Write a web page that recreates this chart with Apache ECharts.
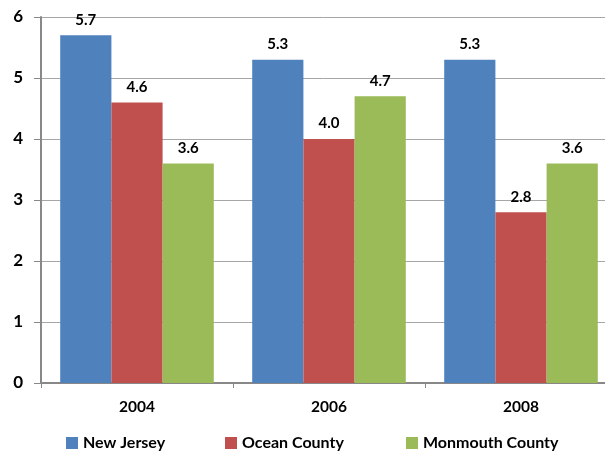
<!DOCTYPE html>
<html>
<head>
<meta charset="utf-8">
<script src="https://cdn.jsdelivr.net/npm/echarts@6/dist/echarts.min.js"></script>
<style>
html, body { margin: 0; padding: 0; background: #fff; }
#box { width: 605px; height: 452px; }
</style>
</head>
<body>
<div id="box"></div>
<script>
var years = ['2004', '2006', '2008'];
var newJersey = [5.7, 5.3, 5.3];
var oceanCounty = [4.6, 4.0, 2.8];
var monmouthCounty = [3.6, 4.7, 3.6];
var seriesNames = ['New Jersey', 'Ocean County', 'Monmouth County'];
var colors = ['#4F81BD', '#C0504D', '#9BBB59'];

var font = 'Lato, "Open Sans", sans-serif';

function bar(name, data, color) {
  return {
    name: name,
    type: 'bar',
    data: data,
    barGap: 0,
    barCategoryGap: '20%',
    itemStyle: { color: color },
    label: {
      show: true,
      position: 'top',
      distance: 8,
      formatter: function (p) { return p.value.toFixed(1); },
      fontFamily: font,
      fontWeight: 'bold',
      fontSize: 15,
      color: '#000'
    }
  };
}

function legend(name, left) {
  return {
    data: [name],
    left: left,
    top: 433,
    padding: 0,
    itemWidth: 12,
    itemHeight: 12,
    icon: 'rect',
    textStyle: { fontFamily: font, fontWeight: 'bold', fontSize: 16, lineHeight: 20, color: '#000' }
  };
}

var myChart = echarts.init(document.getElementById('box'));
var option = {
  animation: false,
  color: colors,
  legend: [legend(seriesNames[0], 66), legend(seriesNames[1], 225), legend(seriesNames[2], 406)],
  grid: { left: 41, width: 576, top: 17, height: 366, outerBoundsMode: 'none', containLabel: false },
  xAxis: {
    type: 'category',
    data: years,
    axisLine: { lineStyle: { color: '#888', width: 2 } },
    axisTick: { show: true, length: 5, lineStyle: { color: '#888' } },
    axisLabel: { margin: 16, fontFamily: font, fontWeight: 'bold', fontSize: 15.5, color: '#000' }
  },
  yAxis: {
    type: 'value',
    min: 0,
    max: 6,
    interval: 1,
    axisLine: { show: true, lineStyle: { color: '#888', width: 2 } },
    axisTick: { show: true, length: 7, lineStyle: { color: '#888' } },
    splitLine: { lineStyle: { color: '#A6A6A6', width: 1 } },
    axisLabel: { margin: 18, fontFamily: font, fontWeight: 'bold', fontSize: 17, color: '#000' }
  },
  series: [
    bar(seriesNames[0], newJersey, colors[0]),
    bar(seriesNames[1], oceanCounty, colors[1]),
    bar(seriesNames[2], monmouthCounty, colors[2])
  ]
};
myChart.setOption(option);
</script>
</body>
</html>
